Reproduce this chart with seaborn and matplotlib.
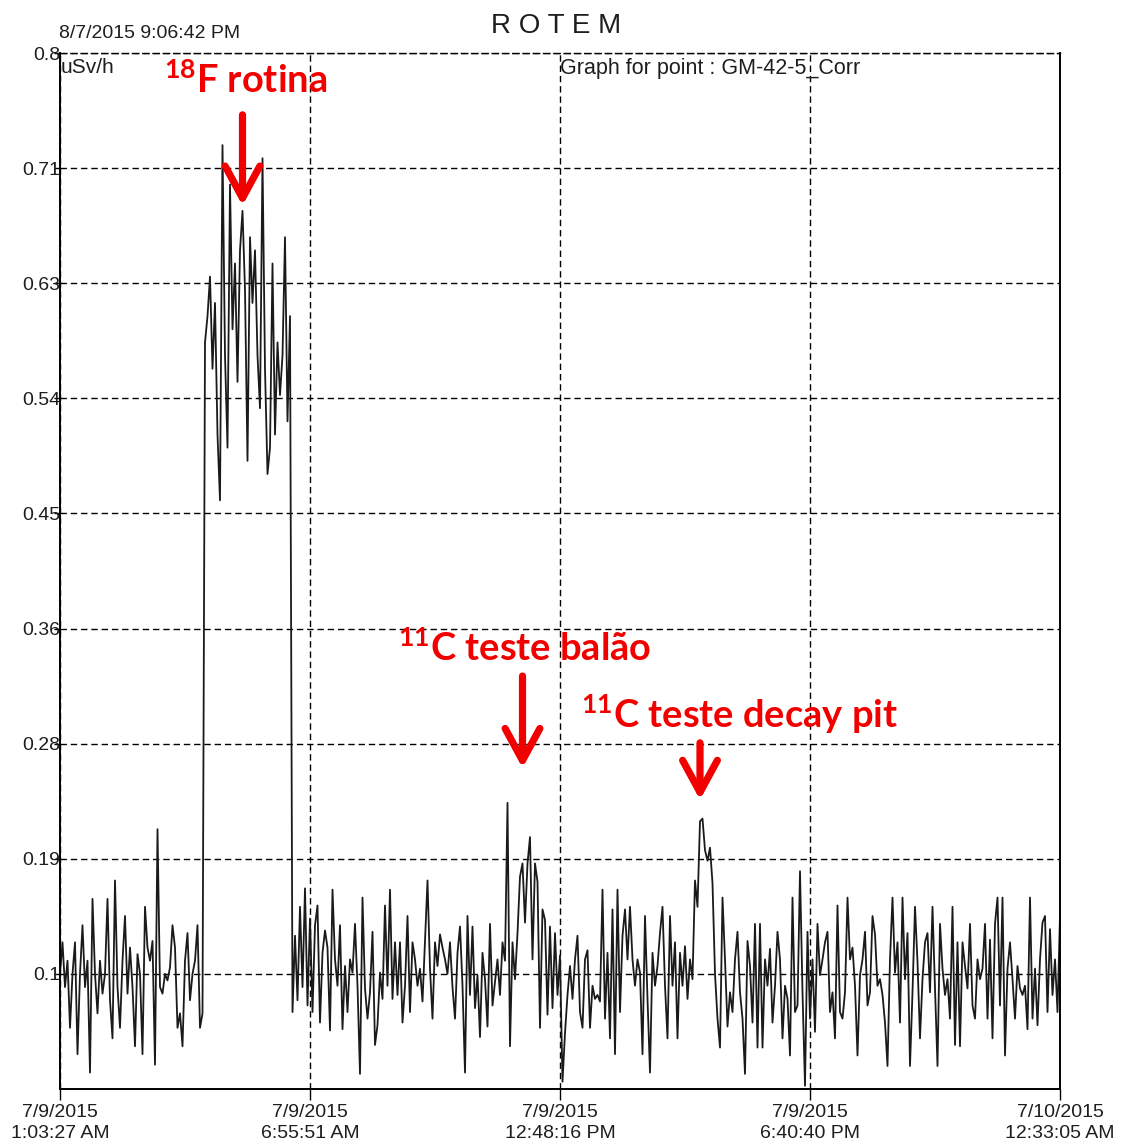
import numpy as np
import pandas as pd
import matplotlib
matplotlib.use("Agg")
import matplotlib.pyplot as plt
import matplotlib.dates as mdates
import seaborn as sns

# --- dose-rate record of monitor GM-42-5 (uSv/h), equally spaced samples ---
baseline_start = [
    0.100, 0.124, 0.090, 0.110, 0.059, 0.100, 0.124, 0.039, 0.100, 0.137,
    0.090, 0.110, 0.025, 0.157, 0.100, 0.070, 0.110, 0.085, 0.100, 0.157,
    0.080, 0.051, 0.171, 0.090, 0.059, 0.110, 0.144, 0.085, 0.120, 0.090,
    0.045, 0.115, 0.100, 0.039, 0.151, 0.120, 0.110, 0.125, 0.031, 0.210,
    0.090, 0.085, 0.100, 0.095, 0.105, 0.137, 0.120, 0.059, 0.070, 0.045,
    0.110, 0.131, 0.080, 0.100, 0.110, 0.137, 0.059, 0.070]

f18_block = [
    0.58, 0.60, 0.63, 0.56, 0.61, 0.51, 0.46, 0.73, 0.57, 0.50,
    0.70, 0.59, 0.64, 0.55, 0.65, 0.68, 0.62, 0.49, 0.66, 0.61,
    0.65, 0.57, 0.53, 0.72, 0.56, 0.48, 0.50, 0.64, 0.51, 0.58,
    0.54, 0.57, 0.66, 0.52, 0.60]

baseline_mid = [
    0.071, 0.129, 0.080, 0.151, 0.090, 0.165, 0.076, 0.142, 0.071, 0.137,
    0.152, 0.063, 0.116, 0.133, 0.120, 0.057, 0.164, 0.111, 0.091, 0.137,
    0.058, 0.106, 0.071, 0.111, 0.101, 0.138, 0.091, 0.024, 0.158, 0.089,
    0.066, 0.086, 0.132, 0.046, 0.061, 0.101, 0.081, 0.152, 0.091, 0.164,
    0.081, 0.124, 0.084, 0.124, 0.063, 0.091, 0.144, 0.071, 0.124, 0.111,
    0.091, 0.104, 0.079, 0.124, 0.171, 0.104, 0.066, 0.124, 0.106, 0.130,
    0.120, 0.111, 0.100, 0.124, 0.090, 0.066, 0.116, 0.136, 0.091, 0.025,
    0.144, 0.084, 0.136, 0.074, 0.099, 0.052, 0.116, 0.096, 0.060, 0.138,
    0.076, 0.094, 0.111, 0.084, 0.124, 0.110]

balloon_test = [0.230, 0.045, 0.124, 0.096, 0.131, 0.174, 0.184, 0.139,
                0.184, 0.204, 0.111, 0.184, 0.170, 0.059, 0.149, 0.141]

baseline_between = [
    0.069, 0.136, 0.074, 0.131, 0.084, 0.114, 0.018, 0.055, 0.084, 0.106,
    0.081, 0.111, 0.129, 0.071, 0.059, 0.111, 0.118, 0.059, 0.091, 0.081,
    0.084, 0.079, 0.164, 0.066, 0.116, 0.051, 0.149, 0.039, 0.164, 0.071,
    0.129, 0.149, 0.111, 0.151, 0.111, 0.091, 0.111, 0.101, 0.039, 0.144,
    0.081, 0.025, 0.116, 0.091, 0.106, 0.131, 0.151, 0.091, 0.051, 0.144,
    0.091, 0.124, 0.051, 0.116, 0.091, 0.121, 0.081, 0.111, 0.096]

decay_pit_test = [0.171, 0.151, 0.216, 0.218, 0.194, 0.186, 0.196, 0.169,
                  0.100, 0.066]

baseline_end = [
    0.044, 0.158, 0.111, 0.060, 0.086, 0.071, 0.111, 0.132, 0.086, 0.066,
    0.024, 0.125, 0.106, 0.063, 0.138, 0.044, 0.138, 0.044, 0.111, 0.091,
    0.119, 0.063, 0.091, 0.132, 0.111, 0.051, 0.091, 0.081, 0.038, 0.158,
    0.071, 0.076, 0.178, 0.086, 0.015, 0.132, 0.066, 0.111, 0.056, 0.138,
    0.099, 0.111, 0.124, 0.132, 0.071, 0.086, 0.051, 0.152, 0.071, 0.066,
    0.086, 0.158, 0.111, 0.120, 0.091, 0.038, 0.099, 0.111, 0.132, 0.076,
    0.086, 0.144, 0.130, 0.091, 0.096, 0.084, 0.063, 0.030, 0.111, 0.158,
    0.101, 0.124, 0.063, 0.158, 0.096, 0.131, 0.030, 0.086, 0.151, 0.109,
    0.051, 0.096, 0.124, 0.131, 0.086, 0.151, 0.089, 0.030, 0.138, 0.104,
    0.084, 0.096, 0.066, 0.151, 0.046, 0.124, 0.045, 0.124, 0.106, 0.089,
    0.138, 0.076, 0.066, 0.111, 0.096, 0.104, 0.138, 0.066, 0.126, 0.051,
    0.138, 0.158, 0.076, 0.158, 0.038, 0.104, 0.124, 0.096, 0.066, 0.106,
    0.089, 0.084, 0.091, 0.058, 0.158, 0.066, 0.104, 0.061, 0.111, 0.139,
    0.144, 0.071, 0.134, 0.084, 0.111, 0.071, 0.144]

record_start = "2015-07-09 01:03:27"
record_end = "2015-07-10 00:33:05"

y_ticks = [0.1, 0.1875, 0.275, 0.3625, 0.45, 0.5375, 0.625, 0.7125, 0.8]
y_tick_labels = ["0.1", "0.19", "0.28", "0.36", "0.45", "0.54", "0.63", "0.71", "0.8"]
y_range = (0.0125, 0.8)

printed_at = "8/7/2015 9:06:42 PM"
title = "R O T E M"
unit = "uSv/h"
point_name = "Graph for point : GM-42-5_Corr"

# --- assemble the series ---
dose = np.array(baseline_start + f18_block + baseline_mid + balloon_test
                + baseline_between + decay_pit_test + baseline_end)
times = pd.date_range(record_start, record_end, periods=len(dose))
df = pd.DataFrame({"time": times, "dose": dose})

sns.set_theme(style="white")
plt.rcParams["font.family"] = ["Liberation Sans", "DejaVu Sans"]
plt.rcParams["mathtext.fontset"] = "custom"
plt.rcParams["mathtext.rm"] = "Lato:bold"
plt.rcParams["mathtext.it"] = "Lato:bold"
plt.rcParams["mathtext.bf"] = "Lato:bold"

W, H = 1127, 1147
fig = plt.figure(figsize=(W / 100, H / 100), dpi=100)
ax = fig.add_axes([60 / W, 58 / H, 1000 / W, 1036 / H])

sns.lineplot(data=df, x="time", y="dose", ax=ax, color="#1a1a1a",
             linewidth=1.3, estimator=None)

ax.set_xlim(times[0], times[-1])
ax.set_ylim(*y_range)
ax.set_xlabel("")
ax.set_ylabel("")

# y axis
ax.set_yticks(y_ticks)
ax.set_yticklabels(y_tick_labels)

# x axis: five evenly spaced time stamps
tick_times = pd.date_range(record_start, record_end, periods=5)


def stamp(t):
    hour = t.hour % 12 or 12
    half = "AM" if t.hour < 12 else "PM"
    return f"{t.month}/{t.day}/{t.year}\n{hour}:{t:%M:%S} {half}"


ax.set_xticks(mdates.date2num(tick_times.to_pydatetime()))
ax.set_xticklabels([stamp(t) for t in tick_times])

dash = (0, (4.6, 2.8))
ax.grid(True, color="black", linestyle=dash, linewidth=1.0)
ax.set_axisbelow(True)

for side in ("left", "bottom", "right"):
    ax.spines[side].set_color("black")
    ax.spines[side].set_linewidth(1.4)
ax.spines["top"].set_linestyle(dash)
ax.spines["top"].set_linewidth(1.0)
ax.spines["top"].set_color("black")

ax.tick_params(axis="y", which="major", direction="out", left=True, length=4.3,
               width=1.0, color="black", pad=-4.6, labelsize=14,
               labelcolor="#1e1e1e")
ax.tick_params(axis="x", which="major", direction="out", bottom=True, length=8,
               width=1.0, color="black", pad=3.0, labelsize=14,
               labelcolor="#1e1e1e")
for lab in ax.get_xticklabels():
    lab.set_linespacing(1.25)

# header texts
fig.text(59 / W, 1 - 38 / H, printed_at, ha="left", va="baseline",
         fontsize=14, color="#1e1e1e")
fig.text(556 / W, 1 - 33 / H, title, ha="center", va="baseline",
         fontsize=20, color="#1e1e1e")
fig.text(61 / W, 1 - 73 / H, unit, ha="left", va="baseline",
         fontsize=15, color="#1e1e1e")
fig.text(560 / W, 1 - 74 / H, point_name, ha="left", va="baseline",
         fontsize=15.5, color="#1e1e1e")

# red annotations
red = "#f20000"
notes = [
    (r"$^{18}$F rotina", 0.186, 0.9614),
    (r"$^{11}$C teste balão", 0.465, 0.4131),
    (r"$^{11}$C teste decay pit", 0.680, 0.3485),
]
for txt, fx, fy in notes:
    ax.text(fx, fy, txt, transform=ax.transAxes, ha="center", va="baseline",
            fontsize=27.4, fontfamily="Lato", fontweight="bold", color=red,
            clip_on=False)

arrow_style = "->,head_length=2.3,head_width=1.25"
arrows = [
    (times[73], 0.684, 0.753),
    (times[185], 0.2565, 0.3264),
    (times[256], 0.2323, 0.2756),
]
for t, tip, tail in arrows:
    ax.annotate("", xy=(t, tip), xytext=(t, tail),
                arrowprops=dict(arrowstyle=arrow_style, color=red, lw=5.2,
                                mutation_scale=10, shrinkA=0, shrinkB=0))

fig.savefig("out.png", dpi=100)
